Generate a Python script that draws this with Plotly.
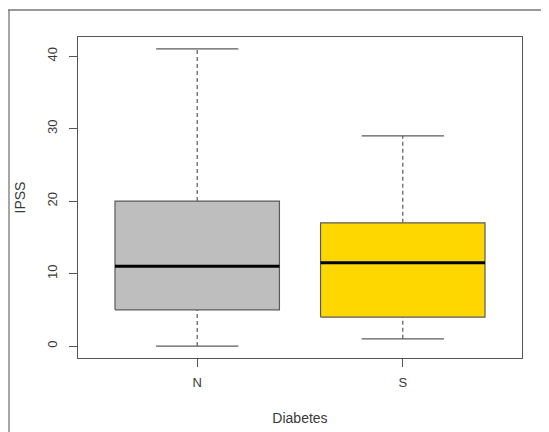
import plotly.graph_objects as go

# Data
categories = ["N", "S"]
lower_whisker = [0, 1]
q1 = [5, 4]
median = [11, 11.5]
q3 = [20, 17]
upper_whisker = [41, 29]
fill_colors = ["#BEBEBE", "#FFD700"]
y_ticks = [0, 10, 20, 30, 40]

box_half = 0.4
cap_half = 0.2
edge = "#5a5a5a"
text_color = "#3a3a3a"

fig = go.Figure()
for i, cat in enumerate(categories):
    c = i + 1
    # whiskers (dashed)
    fig.add_trace(go.Scatter(x=[c, c], y=[q3[i], upper_whisker[i]], mode="lines",
                             line=dict(color=edge, width=1.2, dash="4px,3px"), hoverinfo="skip", showlegend=False))
    fig.add_trace(go.Scatter(x=[c, c], y=[lower_whisker[i], q1[i]], mode="lines",
                             line=dict(color=edge, width=1.2, dash="4px,3px"), hoverinfo="skip", showlegend=False))
    # caps
    for v in (lower_whisker[i], upper_whisker[i]):
        fig.add_trace(go.Scatter(x=[c - cap_half, c + cap_half], y=[v, v], mode="lines",
                                 line=dict(color=edge, width=1.3), hoverinfo="skip", showlegend=False))
    # box
    fig.add_trace(go.Scatter(x=[c - box_half, c + box_half, c + box_half, c - box_half, c - box_half],
                             y=[q1[i], q1[i], q3[i], q3[i], q1[i]], mode="lines", fill="toself",
                             fillcolor=fill_colors[i], line=dict(color=edge, width=1.2),
                             name=cat, showlegend=False))
    # median
    fig.add_trace(go.Scatter(x=[c - box_half, c + box_half], y=[median[i], median[i]], mode="lines",
                             line=dict(color="black", width=3), hoverinfo="skip", showlegend=False))

# page body has an 8px margin, so the figure is 541x424
W, H = 541, 424
ML, MR, MT, MB = 70, 27, 29, 74
PW = W - ML - MR
PH = H - MT - MB

tick_font = dict(family="Liberation Sans, Arial, sans-serif", size=13, color=text_color)
title_font = dict(family="Liberation Sans, Arial, sans-serif", size=14, color=text_color)

fig.update_layout(
    template="none",
    width=W, height=H,
    margin=dict(l=ML, r=MR, t=MT, b=MB),
    paper_bgcolor="white", plot_bgcolor="white",
    font=dict(family="Liberation Sans, Arial, sans-serif", size=13, color=text_color),
    xaxis=dict(range=[0.42, 2.58], tickvals=[1, 2], ticktext=categories, automargin=False,
               showgrid=False, zeroline=False, showline=True, mirror=True,
               linecolor="#555555", linewidth=1.3, ticks="outside", ticklen=8,
               tickcolor="#555555", tickwidth=1.3, ticklabelstandoff=4, tickfont=tick_font,
               title=dict(text="Diabetes", standoff=24, font=title_font)),
    yaxis=dict(range=[-1.64, 42.64], tickvals=y_ticks, tickangle=-90, automargin=False,
               showgrid=False, zeroline=False, showline=True, mirror=True,
               linecolor="#555555", linewidth=1.3, ticks="outside", ticklen=8,
               tickcolor="#555555", tickwidth=1.3, ticklabelstandoff=7, tickfont=tick_font,
               title=dict(text="IPSS", standoff=15, font=title_font)),
    shapes=[
        dict(type="line", xref="paper", yref="paper", x0=-ML / PW, x1=1.2, y0=1 + 27 / PH, y1=1 + 27 / PH,
             line=dict(color="#777777", width=1.3)),
        dict(type="line", xref="paper", yref="paper", x0=-69 / PW, x1=-69 / PW, y0=-0.3, y1=1 + 27 / PH,
             line=dict(color="#777777", width=1.3)),
    ],
)

fig.write_html("out.html")
